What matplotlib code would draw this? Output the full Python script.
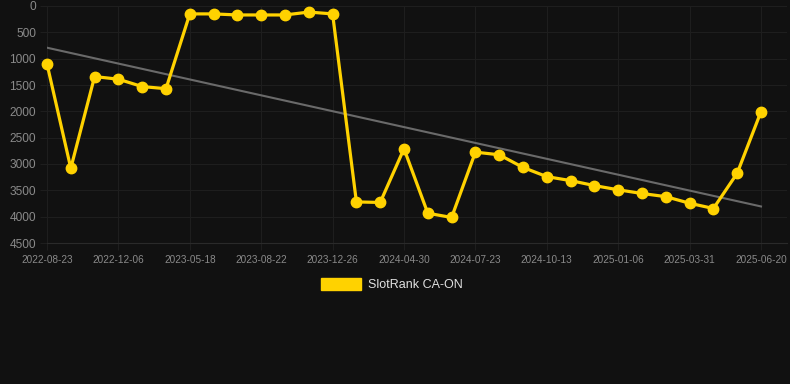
import numpy as np
import matplotlib
matplotlib.use("Agg")
import matplotlib.pyplot as plt

# ---- data ----
tick_labels = ["2022-08-23", "", "", "2022-12-06", "", "", "2023-05-18", "", "",
               "2023-08-22", "", "", "2023-12-26", "", "", "2024-04-30", "", "",
               "2024-07-23", "", "", "2024-10-13", "", "", "2025-01-06", "", "",
               "2025-03-31", "", "", "2025-06-20"]
rank = [1100, 3080, 1340, 1390, 1530, 1570, 150, 150, 170, 170, 170, 115, 150,
        3720, 3730, 2710, 3935, 4015, 2775, 2825, 3065, 3240, 3315, 3410, 3490,
        3560, 3620, 3745, 3845, 3175, 2005]
series_name = "SlotRank CA-ON"
y_ticks = [0, 500, 1000, 1500, 2000, 2500, 3000, 3500, 4000, 4500]

BG = "#111111"
YELLOW = "#FFD200"
GRID = "#1e1e1e"
TXT = "#8a8a8a"

plt.rcParams['font.family'] = ['Liberation Sans', 'DejaVu Sans']

W, H = 790, 384
fig = plt.figure(figsize=(W / 100, H / 100), dpi=100, facecolor=BG)
left_px, right_px, top_px, bot_px = 47, 787, 6, 243
ax = fig.add_axes([left_px / W, 1 - bot_px / H, (right_px - left_px) / W, (bot_px - top_px) / H])
ax.set_facecolor(BG)

x = np.arange(len(rank))
step_px = (761 - 47) / (len(rank) - 1)
ax.set_xlim(0, (right_px - left_px) / step_px)
ax.set_ylim(4500, 0)

# trend line (linear regression)
coef = np.polyfit(x, rank, 1)
trend = np.polyval(coef, x[[0, -1]])
ax.plot(x[[0, -1]], trend, color="#6a6a6a", lw=1.5, zorder=2)

ax.plot(x, rank, color=YELLOW, lw=2.3, marker="o", ms=7.5, mfc=YELLOW, mec=YELLOW,
        zorder=3, clip_on=False)

# ticks / grid
ax.set_yticks(y_ticks)
ax.set_yticklabels([str(v) for v in y_ticks])
major = [i for i, t in enumerate(tick_labels) if t]
ax.set_xticks(major)
ax.set_xticklabels([tick_labels[i] for i in major])
ax.grid(True, color=GRID, lw=0.8)
ax.set_axisbelow(True)
ax.tick_params(axis="y", colors=GRID, length=5, width=0.8, pad=3, labelcolor=TXT, labelsize=8.6)
ax.tick_params(axis="x", colors=GRID, length=5, width=0.8, pad=3.5, labelcolor=TXT, labelsize=7.2)
for s in ax.spines.values():
    s.set_visible(False)
ax.spines["bottom"].set_visible(True)
ax.spines["bottom"].set_color("#2a2a2a")
ax.spines["bottom"].set_linewidth(0.8)

# legend
fig.patches.append(plt.Rectangle((321 / W, 1 - 290 / H), 40 / W, 12 / H,
                                 transform=fig.transFigure, color=YELLOW))
fig.text(368 / W, 1 - 284.5 / H, series_name, color="#e0e0e0", fontsize=9, va="center", ha="left")

fig.savefig("out.png", dpi=100, facecolor=BG)
